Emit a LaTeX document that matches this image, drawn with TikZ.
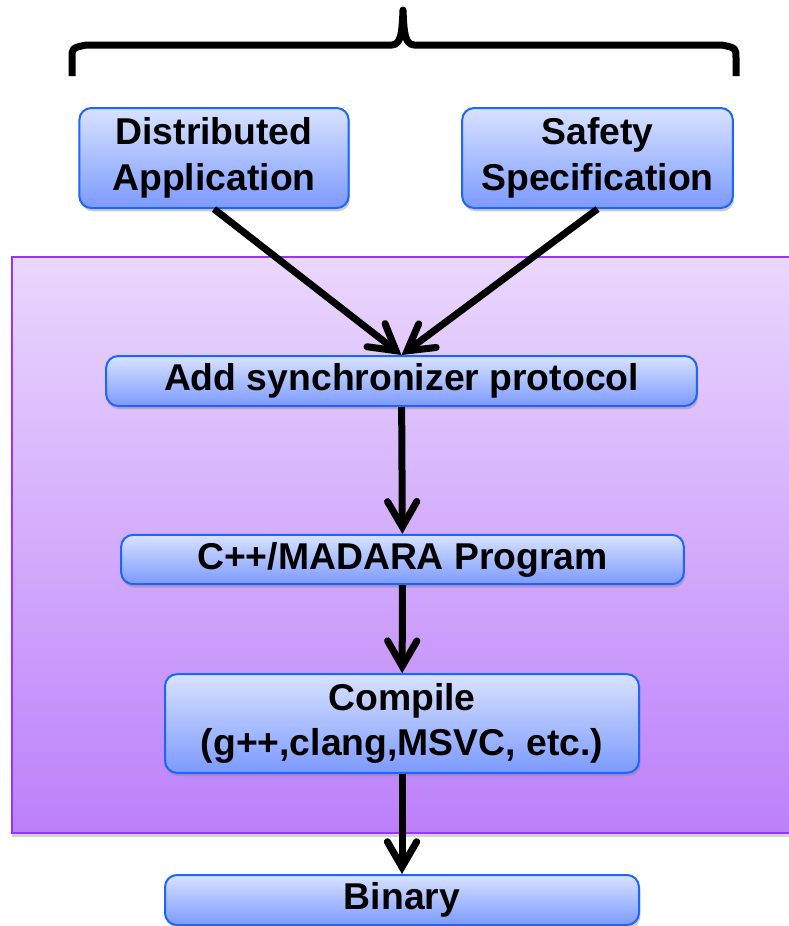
\documentclass[tikz,border=0pt]{standalone}
\usepackage{fontspec}
\setmainfont{Liberation Sans}
\usepackage{tikz}
\usetikzlibrary{arrows.meta,shadows}

\definecolor{boxtop}{RGB}{216,226,255}
\definecolor{boxbot}{RGB}{124,154,255}
\definecolor{boxline}{RGB}{26,102,255}
\definecolor{bandtop}{RGB}{234,215,253}
\definecolor{bandbot}{RGB}{188,128,250}
\definecolor{bandline}{RGB}{153,51,255}

\tikzset{
  stepbox/.style={draw=boxline, line width=1.5pt, rounded corners=9pt,
    top color=boxtop, bottom color=boxbot, inner sep=0pt, align=center,
    drop shadow={shadow xshift=1pt, shadow yshift=-2.5pt, opacity=.4},
    font=\fontsize{28}{34}\selectfont\bfseries},
  flow/.style={line width=5.25pt, -{Straight Barb[length=19pt,width=22pt,line cap=round]}}
}

\begin{document}
\begin{tikzpicture}[x=0.75pt, y=-0.75pt]
          \useasboundingbox (0,0) rectangle (789,926);
          % purple stage
          \draw[draw=bandline, line width=1.5pt, top color=bandtop, bottom color=bandbot,
            drop shadow={shadow xshift=0pt, shadow yshift=-3pt, opacity=.35}]
            (12,257) rectangle (810,833);
          % brace over the inputs
          \draw[line width=5.25pt, line join=round] (72,76) -- (72,58) .. controls (72,48) .. (86,45)
            -- (392,45) .. controls (401,44) and (402,34) .. (403,10)
            .. controls (404,34) and (405,44) .. (414,45) -- (722,45)
            .. controls (736,48) .. (736,58) -- (736,76);
          \node[stepbox, minimum width=202pt, minimum height=75pt] (app) at (214,158) {Distributed\\Application};
          \node[stepbox, minimum width=203pt, minimum height=75pt] (spec) at (597.5,158) {Safety\\Specification};
          \node[stepbox, minimum width=443pt, minimum height=37.5pt] (sync) at (401.5,381) {Add synchronizer protocol};
          \node[stepbox, minimum width=422pt, minimum height=37pt] (prog) at (402.5,559.5) {C++/MADARA Program};
          \node[stepbox, minimum width=355.5pt, minimum height=74pt] (comp) at (402,723.5) {Compile\\(g++,clang,MSVC, etc.)};
          \node[stepbox, minimum width=355.5pt, minimum height=37.5pt] (bin) at (402,900) {Binary};
          \draw[flow] (app.south) -- (sync.north);
          \draw[flow] (spec.south) -- (sync.north);
          \draw[flow] (sync) -- (prog);
          \draw[flow] (prog) -- (comp);
          \draw[flow] (comp) -- (bin);
        \end{tikzpicture}
\end{document}
